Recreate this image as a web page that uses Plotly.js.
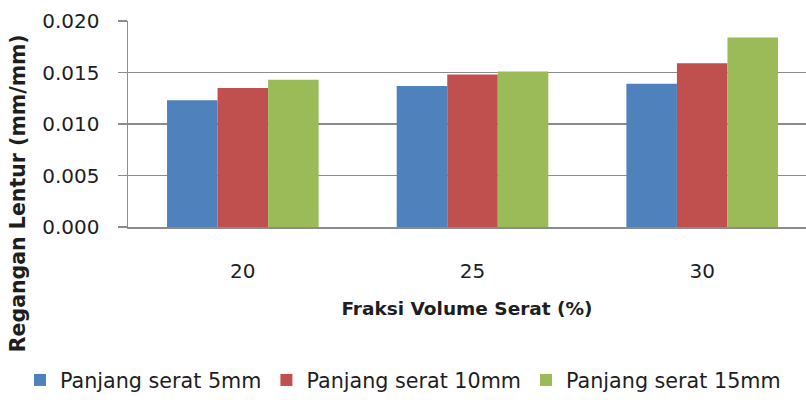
<!DOCTYPE html>
<html>
<head>
<meta charset="utf-8">
<script src="https://cdn.plot.ly/plotly-3.0.1.min.js"></script>
<style>html,body{margin:0;padding:0;background:#fff;}#chart{width:806px;height:400px;}</style>
</head>
<body>
<div id="chart"></div>
<script>
const categories = ["20", "25", "30"];
const seriesNames = ["Panjang serat 5mm", "Panjang serat 10mm", "Panjang serat 15mm"];
const serat5mm = [0.0123, 0.0137, 0.0139];
const serat10mm = [0.0135, 0.0148, 0.0159];
const serat15mm = [0.0143, 0.0151, 0.0184];
const yTicks = [0, 0.005, 0.010, 0.015, 0.020];
const yTickLabels = ["0.000", "0.005", "0.010", "0.015", "0.020"];
const colors = ["#4F81BD", "#C0504D", "#9BBB59"];

const FONT = "DejaVu Sans, sans-serif";
const TXT = "#1e1e1e";
const values = [serat5mm, serat10mm, serat15mm];
const traces = values.map((v, i) => ({
  type: "bar",
  x: categories,
  y: v,
  name: seriesNames[i],
  marker: {color: colors[i], line: {width: 0}},
  hoverinfo: "skip"
}));

const layout = {
  width: 806, height: 400,
  paper_bgcolor: "#fff", plot_bgcolor: "#fff",
  margin: {l: 128, r: 0, t: 20.5, b: 170.5, pad: 0},
  barmode: "group",
  bargap: 0.34,
  bargroupgap: 0,
  font: {family: FONT, size: 20, color: TXT},
  xaxis: {
    type: "category",
    range: [-0.5, 2.452],
    showgrid: false,
    showline: true, linecolor: "#8c8c8c", linewidth: 1.5,
    ticks: "", ticklabelstandoff: 25,
    tickfont: {family: FONT, size: 20, color: TXT},
    title: {text: "Fraksi Volume Serat (%)", font: {family: FONT, size: 18.5, color: TXT, weight: "bold"}, standoff: 20},
    automargin: false, fixedrange: true
  },
  yaxis: {
    range: [0, 0.020],
    tickvals: yTicks, ticktext: yTickLabels,
    showgrid: true, gridcolor: "#8c8c8c", gridwidth: 1.2,
    showline: true, linecolor: "#8c8c8c", linewidth: 1.5,
    ticks: "outside", ticklen: 9, tickcolor: "#8c8c8c", tickwidth: 1.2,
    ticklabelstandoff: 14,
    tickfont: {family: FONT, size: 20, color: TXT},
    zeroline: false, automargin: false, fixedrange: true
  },
  showlegend: true,
  legend: {
    orientation: "h",
    x: -0.1593, xanchor: "left",
    y: -0.744, yanchor: "middle",
    font: {family: FONT, size: 20.7, color: TXT},
    itemclick: false, itemdoubleclick: false,
    tracegroupgap: 0
  },
  annotations: [{
    text: "Regangan Lentur (mm/mm)",
    xref: "paper", yref: "paper",
    x: -0.162, y: 0.165,
    xanchor: "center", yanchor: "middle",
    textangle: -90, showarrow: false,
    font: {family: FONT, size: 20.5, color: TXT, weight: "bold"}
  }]
};

Plotly.newPlot("chart", traces, layout, {displayModeBar: false, staticPlot: true});
</script>
</body>
</html>
